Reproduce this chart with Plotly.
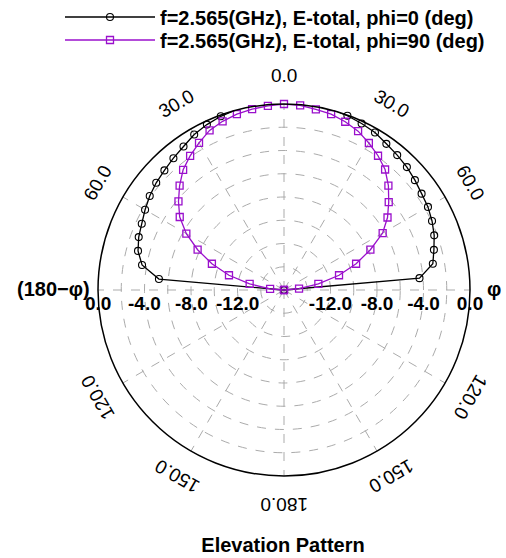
import math
import plotly.graph_objects as go

# ---------------- data ----------------
theta_deg = list(range(-90, 91, 5))
phi0_db = [-16, -5.2, -3.6, -3.0, -2.7, -2.5, -2.2, -1.9, -1.65, -1.45, -1.2, -0.93,
           -0.55, -0.3, -0.1, 0.05, 0.15, 0.25, 0.27, 0.26, 0.2, 0.1, -0.05, -0.2,
           -0.35, -0.65, -0.85, -1.05, -1.3, -1.55, -1.7, -1.95, -2.25, -2.65, -3.0,
           -4.3, -16]
phi90_db = [-16, -14.8, -13.0, -11.1, -9.4, -7.8, -6.3, -5.05, -4.15, -3.3, -2.5, -1.92,
            -1.38, -0.85, -0.56, -0.34, -0.2, -0.1, 0.0, -0.05, -0.22, -0.34, -0.6,
            -0.92, -1.4, -1.9, -2.47, -3.3, -4.24, -5.13, -6.2, -7.8, -9.4, -11.1,
            -13.0, -14.7, -16]
series_names = ["f=2.565(GHz), E-total, phi=0 (deg)",
                "f=2.565(GHz), E-total, phi=90 (deg)"]
radial_min, radial_max = -16, 0
radial_grid = [-14, -12, -10, -8, -6, -4, -2, 0]
radial_labels = [-12, -8, -4, 0]
angle_tick_pos = [0, 30, 60, 120, 150, 180, 210, 240, 300, 330]
angle_tick_text = ["0.0", "30.0", "60.0", "120.0", "150.0", "180.0",
                   "150.0", "120.0", "60.0", "30.0"]
title_text = "Elevation Pattern"

# ---------------- geometry ----------------
W, H = 506, 558
ML, MR, MT, MB = 98, 36, 104, 82
PW = W - ML - MR
PH = H - MT - MB
CX = ML + PW / 2
CY = MT + PH / 2
R = PW / 2


def to_paper(xpx, ypx):
    return (xpx - ML) / PW, (H - MB - ypx) / PH


BLACK = "#000000"
PURPLE = "#9A10CC"
GRID = "#ababab"
FONT = "Liberation Sans, Arial, sans-serif"

fig = go.Figure()
fig.add_trace(go.Scatterpolar(
    r=phi0_db, theta=theta_deg, mode="lines+markers", name=series_names[0],
    line=dict(color=BLACK, width=1.3), legend="legend",
    marker=dict(symbol="circle-open", size=7, color=BLACK, line=dict(width=1.1)),
    cliponaxis=False))
fig.add_trace(go.Scatterpolar(
    r=phi90_db, theta=theta_deg, mode="lines+markers", name=series_names[1],
    line=dict(color=PURPLE, width=1.3), legend="legend2",
    marker=dict(symbol="square-open", size=7, color=PURPLE, line=dict(width=1.3)),
    cliponaxis=False))

annotations = []
# angular labels (rotated tangentially like the original)
for th, txt in zip(angle_tick_pos, angle_tick_text):
    d = R + 29
    xp = CX + d * math.sin(math.radians(th))
    yp = CY - d * math.cos(math.radians(th))
    x, y = to_paper(xp, yp)
    ang = th if th <= 180 else th - 360
    annotations.append(dict(x=x, y=y, xref="paper", yref="paper", text=txt,
                            showarrow=False, textangle=ang,
                            font=dict(family=FONT, size=19, color="#000"),
                            xanchor="center", yanchor="middle"))
# side labels
x, y = to_paper(CX + R + 24, CY - 1)
annotations.append(dict(x=x, y=y, xref="paper", yref="paper", text="<b>φ</b>",
                        showarrow=False, font=dict(family=FONT, size=20, color="#000"),
                        xanchor="center", yanchor="middle"))
x, y = to_paper(CX - R - 6, CY - 1)
annotations.append(dict(x=x, y=y, xref="paper", yref="paper", text="<b>(180−φ)</b>",
                        showarrow=False, font=dict(family=FONT, size=20, color="#000"),
                        xanchor="right", yanchor="middle"))
# left-side radial labels (mirror of the radial axis)
for v in radial_labels:
    xp = CX - (v - radial_min) / (radial_max - radial_min) * R
    x, y = to_paper(xp, CY + 13)
    annotations.append(dict(x=x, y=y, xref="paper", yref="paper",
                            text="<b>%.1f</b>" % v, showarrow=False,
                            font=dict(family=FONT, size=19, color="#000"),
                            xanchor="center", yanchor="middle"))

legend_common = dict(xanchor="left", yanchor="middle", bgcolor="rgba(0,0,0,0)",
                     font=dict(family=FONT, size=20, color="#000", weight="bold"),
                     itemwidth=90, borderwidth=0)

fig.update_layout(
    width=W, height=H,
    margin=dict(l=ML, r=MR, t=MT, b=MB, autoexpand=False),
    paper_bgcolor="white",
    plot_bgcolor="white",
    font=dict(family=FONT, color="#000"),
    showlegend=True,
    legend=dict(x=to_paper(60, 0)[0], y=to_paper(0, 17)[1], **legend_common),
    legend2=dict(x=to_paper(60, 0)[0], y=to_paper(0, 40)[1], **legend_common),
    title=dict(text="<b>%s</b>" % title_text, x=283 / W, xanchor="center",
               y=1 - 545 / H, yanchor="middle", yref="container",
               font=dict(family=FONT, size=20, color="#000")),
    polar=dict(
        domain=dict(x=[0, 1], y=[0, 1]),
        bgcolor="white",
        angularaxis=dict(direction="clockwise", rotation=90, thetaunit="degrees",
                         tickmode="array", tickvals=list(range(0, 360, 30)),
                         showticklabels=False, ticks="",
                         showline=True, linecolor=BLACK, linewidth=1.5,
                         gridcolor=GRID, griddash="dash", gridwidth=1),
        radialaxis=dict(range=[radial_min, radial_max], angle=0, side="clockwise",
                        tickmode="array", tickvals=radial_grid,
                        ticktext=[("%.1f" % v) if v in radial_labels else "" for v in radial_grid],
                        tickfont=dict(family=FONT, size=19, color="#000", weight="bold"),
                        showline=False, ticks="",
                        gridcolor=GRID, griddash="dash", gridwidth=1),
    ),
    annotations=annotations,
)

fig.write_html("out.html")
